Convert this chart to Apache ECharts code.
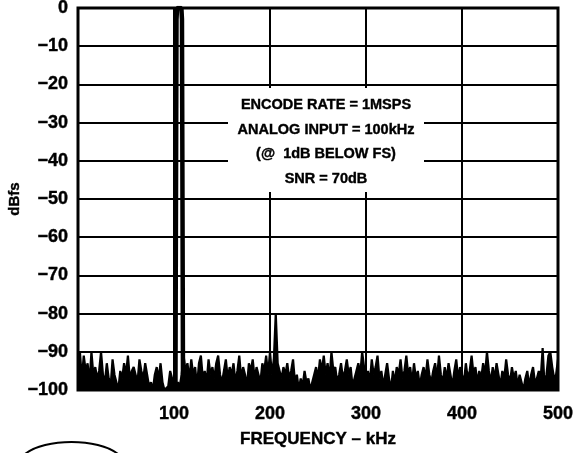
<!DOCTYPE html>
<html>
<head>
<meta charset="utf-8">
<script src="https://cdn.jsdelivr.net/npm/echarts@6/dist/echarts.min.js"></script>
<style>
  html, body { margin: 0; padding: 0; background: #fff; }
  #fft_chart { width: 575px; height: 453px; }
</style>
</head>
<body>
<div id="fft_chart"></div>
<script>
// noise floor, one value every 2 kHz from 0 to 500 kHz (includes 2nd harmonic at 206 kHz)
const FREQ_STEP = 2;
const noiseDb = [
  -92, -90, -97, -91, -95, -93, -98, -90, -96, -94,
  -97, -95, -90, -96, -98, -93, -97, -99, -92, -96,
  -98, -100, -95, -97, -93, -96, -91, -97, -95, -94,
  -96, -98, -92, -95, -97, -93, -96, -99, -98, -100,
  -96, -94, -97, -93, -98, -100, -100, -99, -95, -97,
  -100, -99, -98, -99, -96, -91, -95, -93, -97, -92,
  -96, -94, -99, -93, -91, -97, -95, -98, -92, -96,
  -94, -97, -93, -91, -96, -98, -95, -92, -97, -94,
  -96, -93, -98, -95, -91, -97, -94, -96, -99, -93,
  -95, -92, -97, -94, -96, -98, -93, -95, -91, -96,
  -90, -96, -92, -80, -93, -95, -97, -94, -96, -93,
  -97, -95, -92, -98, -96, -100, -97, -99, -95, -98,
  -97, -100, -98, -96, -94, -97, -92, -95, -91, -96,
  -93, -97, -90, -95, -94, -98, -96, -93, -97, -95,
  -92, -96, -94, -99, -97, -95, -93, -96, -90, -94,
  -97, -95, -98, -92, -96, -94, -91, -97, -95, -99,
  -96, -93, -97, -100, -95, -98, -94, -96, -92, -97,
  -95, -91, -96, -94, -98, -93, -97, -95, -99, -96,
  -94, -97, -92, -96, -98, -95, -93, -97, -91, -96,
  -98, -94, -97, -93, -96, -99, -95, -92, -97, -94,
  -96, -98, -93, -97, -95, -91, -96, -94, -98, -95,
  -97, -93, -96, -90, -95, -98, -94, -97, -93, -96,
  -99, -95, -97, -92, -96, -98, -94, -97, -95, -99,
  -96, -98, -100, -97, -95, -99, -96, -94, -98, -97,
  -95, -97, -89, -99, -96, -91, -90, -94, -97, -96, -92
];

// fundamental at 100 kHz (drawn as outline, not filled)
const fundFreq = [101.5, 102.6, 103.2, 107.7, 108.3, 109.4];
const fundDb = [-100, -3, 0, 0, -3, -100];

const xTicks = [100, 200, 300, 400, 500];
const noteLines = [
  "ENCODE RATE = 1MSPS",
  "ANALOG INPUT = 100kHz",
  "(@  1dB BELOW FS)",
  "SNR = 70dB",
];

const FONT = "'Liberation Sans', Arial, sans-serif";

const chart = echarts.init(document.getElementById("fft_chart"));

const noiseData = noiseDb.map((v, i) => [i * FREQ_STEP, v]);
const fundData = fundFreq.map((f, i) => [f, fundDb[i]]);

const boldText = {
  fontFamily: FONT,
  fontWeight: "bold",
  color: "#000",
  textBorderColor: "#000",
  textBorderWidth: 0.4,
};

const option = {
  animation: false,
  backgroundColor: "#fff",
  grid: {
    left: 78,
    right: 17,
    top: 8,
    bottom: 63,
    containLabel: false,
    outerBoundsMode: "none",
    show: true,
    borderColor: "#000",
    borderWidth: 3,
  },
  xAxis: {
    type: "value",
    min: 0,
    max: 500,
    interval: 100,
    name: "FREQUENCY – kHz",
    nameLocation: "middle",
    nameGap: 41,
    nameTextStyle: { ...boldText, fontSize: 17 },
    axisLine: { show: false },
    axisTick: { show: false },
    axisLabel: {
      ...boldText,
      margin: 15,
      fontSize: 18,
      formatter: (v) => (xTicks.includes(v) ? String(v) : ""),
    },
    splitLine: { show: true, lineStyle: { color: "#000", width: 2 } },
  },
  yAxis: {
    type: "value",
    min: -100,
    max: 0,
    interval: 10,
    name: "dBfs",
    nameLocation: "middle",
    nameGap: 56,
    nameMoveOverlap: false,
    nameTextStyle: { ...boldText, fontSize: 15 },
    axisLine: { show: false },
    axisTick: { show: false },
    axisLabel: {
      ...boldText,
      margin: 10,
      fontSize: 18,
      formatter: (v) => (v === 0 ? "0" : "−" + Math.abs(v)),
    },
    splitLine: { show: true, lineStyle: { color: "#000", width: 2 } },
  },
  series: [
    {
      name: "noise",
      type: "line",
      data: noiseData,
      showSymbol: false,
      lineStyle: { color: "#000", width: 2.2 },
      areaStyle: { color: "#000", opacity: 1, origin: "start" },
      z: 3,
    },
    {
      name: "fundamental",
      type: "line",
      data: fundData,
      showSymbol: false,
      lineStyle: { color: "#000", width: 4.5 },
      z: 4,
    },
  ],
  graphic: [
    {
      type: "rect",
      z: 9,
      shape: { x: 228, y: 88, width: 196, height: 104 },
      style: { fill: "#fff" },
    },
    {
      type: "text",
      z: 10,
      x: 326,
      y: 93,
      style: {
        text: noteLines.join("\n"),
        fontFamily: FONT,
        fontWeight: "bold",
        fontSize: 14.5,
        lineHeight: 24.5,
        fill: "#000",
        stroke: "#000",
        lineWidth: 0.4,
        align: "center",
        verticalAlign: "top",
      },
    },
    {
      type: "bezierCurve",
      shape: { x1: 25, y1: 454, x2: 118, y2: 454, cpx1: 45, cpy1: 438, cpx2: 98, cpy2: 438 },
      style: { stroke: "#000", lineWidth: 2, fill: null },
    },
  ],
};

chart.setOption(option);
</script>
</body>
</html>
